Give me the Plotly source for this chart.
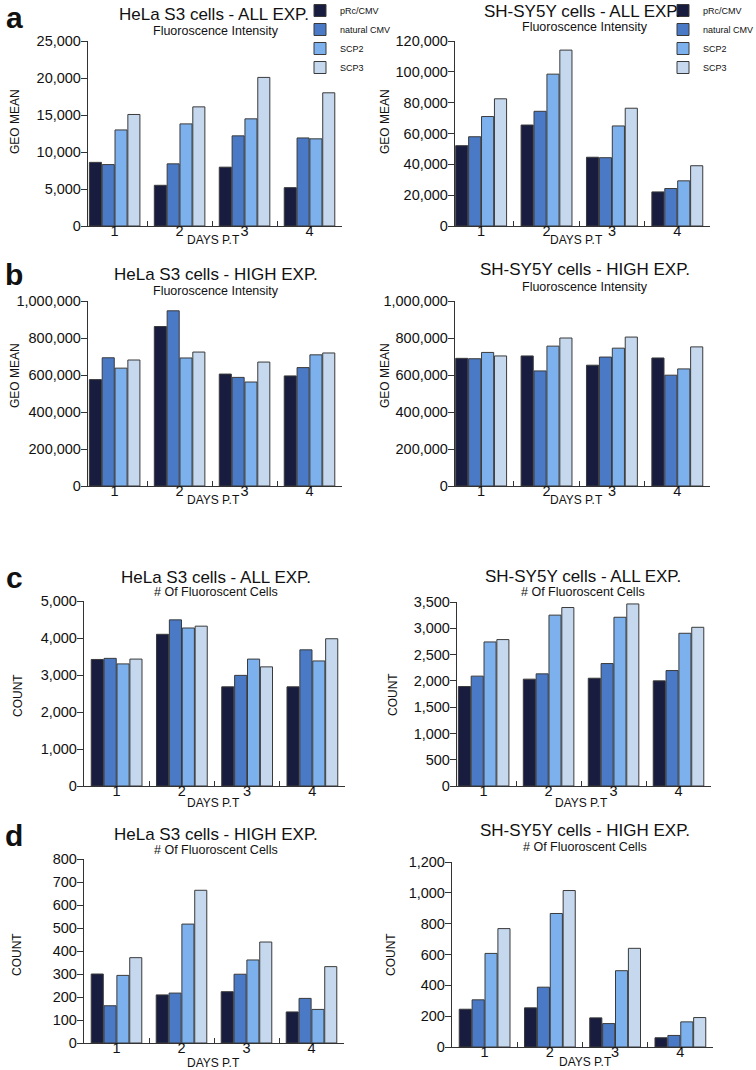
import plotly.graph_objects as go

W, H = 756, 1070
FONT = "Liberation Sans, Arial, Helvetica, sans-serif"

days = ["1", "2", "3", "4"]
constructs = ["pRc/CMV", "natural CMV", "SCP2", "SCP3"]
colors = ["#181c3e", "#4a79c6", "#7db1ee", "#c5d8ee"]

# each list: one row per construct (pRc/CMV, natural CMV, SCP2, SCP3), values for days 1-4
hela_all_geo = [
    [8600, 5500, 7950, 5180],
    [8300, 8400, 12180, 11900],
    [12980, 13800, 14480, 11780],
    [15070, 16100, 20080, 18000],
]
shsy_all_geo = [
    [52100, 65500, 44600, 22100],
    [57900, 74400, 44300, 24300],
    [71000, 98500, 64900, 29300],
    [82500, 114100, 76400, 39100],
]
hela_high_geo = [
    [575000, 862000, 605000, 595000],
    [693000, 947000, 587000, 640000],
    [637000, 692000, 562000, 709000],
    [681000, 724000, 670000, 719000],
]
shsy_high_geo = [
    [690000, 703000, 653000, 692000],
    [688000, 622000, 697000, 599000],
    [722000, 756000, 745000, 633000],
    [703000, 800000, 805000, 752000],
]
hela_all_count = [
    [3420, 4100, 2680, 2680],
    [3450, 4490, 2990, 3680],
    [3300, 4270, 3430, 3380],
    [3430, 4320, 3220, 3980],
]
shsy_all_count = [
    [1892, 2032, 2050, 2000],
    [2090, 2133, 2329, 2196],
    [2740, 3250, 3210, 2905],
    [2785, 3395, 3463, 3019],
]
hela_high_count = [
    [300, 209, 223, 135],
    [162, 217, 299, 194],
    [294, 517, 361, 146],
    [371, 664, 439, 332],
]
shsy_high_count = [
    [245, 254, 189, 60],
    [306, 388, 152, 75],
    [607, 866, 495, 163],
    [768, 1015, 640, 191],
]

titles = [
    "HeLa S3 cells - ALL EXP.", "SH-SY5Y cells - ALL EXP.",
    "HeLa S3 cells - HIGH EXP.", "SH-SY5Y cells - HIGH EXP.",
    "HeLa S3 cells - ALL EXP.", "SH-SY5Y cells - ALL EXP.",
    "HeLa S3 cells - HIGH EXP.", "SH-SY5Y cells - HIGH EXP.",
]
subtitles = ["Fluoroscence Intensity"] * 4 + ["# Of Fluoroscent Cells"] * 4
ytitles = ["GEO MEAN"] * 4 + ["COUNT"] * 4
xtitle = "DAYS P.T"
panel_letters = ["a", "b", "c", "d"]
datasets = [hela_all_geo, shsy_all_geo, hela_high_geo, shsy_high_geo,
            hela_all_count, shsy_all_count, hela_high_count, shsy_high_count]
ymax = [25000, 120000, 1000000, 1000000, 5000, 3500, 800, 1200]
ydtick = [5000, 20000, 200000, 200000, 1000, 500, 100, 200]

# ---- layout geometry (pixels) ----
boxes = [  # x0, x1, ytop, ybottom
    (88, 342, 41, 226), (455, 710, 41, 226),
    (88, 342, 301, 486), (455, 710, 301, 486),
    (84, 345, 601, 786), (457, 711, 602, 786),
    (84, 344, 859, 1043), (452, 713, 862, 1047),
]
xstarts = [-0.41, -0.40, -0.41, -0.40, -0.5, -0.41, -0.5, -0.5]
title_pos = [(214, 15), (582, 11), (216, 275), (585, 270),
             (216, 577), (583, 576), (216, 834), (585, 830)]
sub_pos = [(216, 31), (585, 27), (216, 291), (585, 287),
           (216, 592), (583, 592), (216, 850), (585, 847)]
ytitle_pos = [(15, 122), (385, 122), (15, 376), (385, 376),
              (18, 696), (393, 695), (17, 955), (391, 955)]
xtitle_pos = [(213, 240), (576, 240), (213, 500), (576, 500),
              (213, 803), (581, 803), (213, 1063), (585, 1062)]
letter_pos = [(14, 18), (14, 275), (14, 577), (14, 835)]


def fx(x):
    return x / W


def fy(y):
    return 1 - y / H


def ann(text, x, y, size, bold=False, angle=0, xanchor="center"):
    if bold:
        text = "<b>" + text + "</b>"
    return dict(text=text, x=fx(x), y=fy(y), xref="paper", yref="paper",
                showarrow=False, xanchor=xanchor, yanchor="middle",
                textangle=angle, font=dict(family=FONT, size=size, color="#111"))


fig = go.Figure()
layout = dict(
    width=W, height=H,
    margin=dict(l=0, r=0, t=0, b=0, pad=0, autoexpand=False),
    paper_bgcolor="white", plot_bgcolor="white",
    barmode="group", bargap=0.21, bargroupgap=0.06,
    font=dict(family=FONT, color="#111"),
    annotations=[],
)

for p, data in enumerate(datasets):
    xa = "x" if p == 0 else f"x{p + 1}"
    ya = "y" if p == 0 else f"y{p + 1}"
    for s, name in enumerate(constructs):
        legend_name = "legend" if p == 0 else "legend2"
        fig.add_trace(go.Bar(
            x=days, y=data[s], name=name, xaxis=xa, yaxis=ya,
            marker=dict(color=colors[s], line=dict(color="#3a3a3a", width=1)),
            showlegend=p in (0, 1), legend=legend_name,
        ))
    x0, x1, yt, yb = boxes[p]
    axis_line = dict(showline=True, linecolor="#333", linewidth=1.3,
                     showgrid=False, zeroline=False, automargin=False)
    layout[f"xaxis{'' if p == 0 else p + 1}"] = dict(
        domain=[fx(x0), fx(x1)], anchor=ya, type="category",
        range=[xstarts[p], 3.5], ticks="inside", ticklen=5, tickcolor="#333",
        tickson="boundaries", ticklabelstandoff=-9,
        tickfont=dict(size=14.5, family=FONT, color="#111"),
        fixedrange=True, **axis_line)
    layout[f"yaxis{'' if p == 0 else p + 1}"] = dict(
        domain=[fy(yb), fy(yt)], anchor=xa, range=[0, ymax[p]],
        dtick=ydtick[p], tick0=0, tickformat=",d", ticks="outside", ticklen=6,
        tickcolor="#333", ticklabelstandoff=-3,
        tickfont=dict(size=14.5, family=FONT, color="#111"),
        **axis_line)
    layout["annotations"] += [
        ann(titles[p], *title_pos[p], 17),
        ann(subtitles[p], *sub_pos[p], 12.5),
        ann(ytitles[p], *ytitle_pos[p], 12, angle=-90),
        ann(xtitle, *xtitle_pos[p], 12),
    ]

for i, letter in enumerate(panel_letters):
    layout["annotations"].append(ann(letter, *letter_pos[i], 30, bold=True))

legend_style = dict(font=dict(family=FONT, size=9, color="#111"),
                    bgcolor="rgba(0,0,0,0)", xanchor="left", yanchor="top",
                    itemclick=False, itemdoubleclick=False)
layout["legend"] = dict(x=fx(300), y=fy(-4), **legend_style)
layout["legend2"] = dict(x=fx(663), y=fy(-4), **legend_style)

fig.update_layout(**layout)
# remove the browser's default 8px body margin so the figure fills the window
fig.write_html("out.html",
               config={"displayModeBar": False},
               post_script="document.body.style.margin='0px';"
                           "document.body.style.overflow='hidden';")
